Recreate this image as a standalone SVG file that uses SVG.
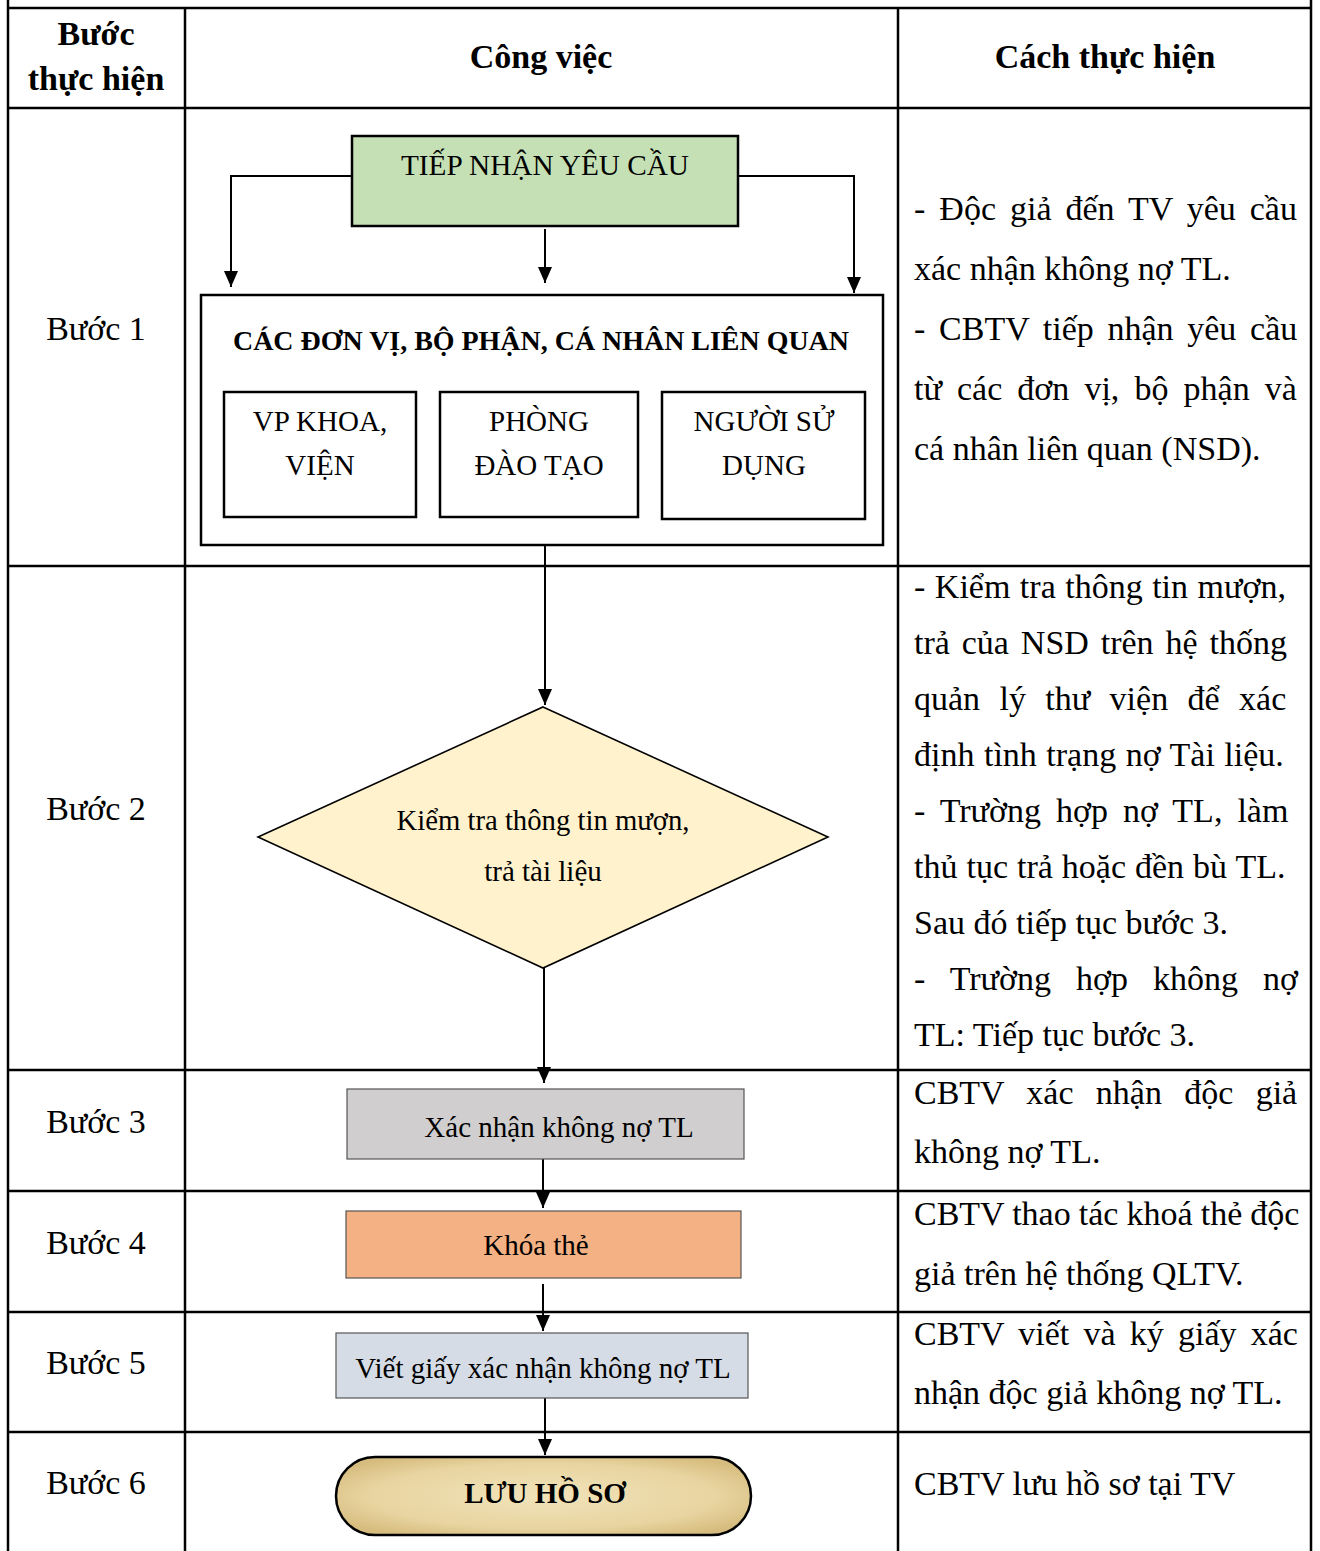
<svg xmlns="http://www.w3.org/2000/svg" width="1320" height="1551" viewBox="0 0 1320 1551">
<style>
  text { font-family: "Liberation Serif", "Times New Roman", serif; fill: #000; }
  .hd { font-size: 34px; font-weight: bold; text-anchor: middle; }
  .step { font-size: 34px; text-anchor: middle; }
  .body { font-size: 34px; }
  .lbl { font-size: 29px; text-anchor: middle; }
  .lblb { font-size: 28px; font-weight: bold; text-anchor: middle; }
  .grid { stroke: #000; stroke-width: 2.5; fill: none; }
  .conn { stroke: #000; stroke-width: 2; fill: none; }
  .thick { stroke: #000; stroke-width: 2.5; }
  .thin { stroke: #555; stroke-width: 1.2; }
</style>
<defs>
  <marker id="arr" viewBox="0 0 16 14" refX="16" refY="7" markerWidth="16" markerHeight="14" markerUnits="userSpaceOnUse" orient="auto">
    <path d="M0,0 L16,7 L0,14 Z" fill="#000"/>
  </marker>
  <radialGradient id="parch" cx="50%" cy="50%" r="60%">
    <stop offset="0" stop-color="#F1E3BA"/>
    <stop offset="0.7" stop-color="#E8D4A0"/>
    <stop offset="1" stop-color="#D6BC7E"/>
  </radialGradient>
</defs>

<g id="table">
  <line class="grid" x1="8" y1="0" x2="8" y2="1551"/>
  <line class="grid" x1="1311" y1="0" x2="1311" y2="1551"/>
  <line class="grid" x1="185" y1="8" x2="185" y2="1551"/>
  <line class="grid" x1="898" y1="8" x2="898" y2="1551"/>
  <line class="grid" x1="8" y1="8" x2="1311" y2="8"/>
  <line class="grid" x1="8" y1="108" x2="1311" y2="108"/>
  <line class="grid" x1="8" y1="566" x2="1311" y2="566"/>
  <line class="grid" x1="8" y1="1070" x2="1311" y2="1070"/>
  <line class="grid" x1="8" y1="1191" x2="1311" y2="1191"/>
  <line class="grid" x1="8" y1="1312" x2="1311" y2="1312"/>
  <line class="grid" x1="8" y1="1432" x2="1311" y2="1432"/>
</g>

<g id="header">
  <text class="hd" x="96" y="45">Bước</text>
  <text class="hd" x="96" y="90">thực hiện</text>
  <text class="hd" x="541" y="68">Công việc</text>
  <text class="hd" x="1105" y="68">Cách thực hiện</text>
</g>

<g id="steps">
  <text class="step" x="96" y="340">Bước 1</text>
  <text class="step" x="96" y="820">Bước 2</text>
  <text class="step" x="96" y="1133">Bước 3</text>
  <text class="step" x="96" y="1254">Bước 4</text>
  <text class="step" x="96" y="1374">Bước 5</text>
  <text class="step" x="96" y="1494">Bước 6</text>
</g>

<g id="descriptions">
  <text class="body" x="914" y="220" style="word-spacing:5.5px">- Độc giả đến TV yêu cầu</text>
  <text class="body" x="914" y="280">xác nhận không nợ TL.</text>
  <text class="body" x="914" y="340" style="word-spacing:5.2px">- CBTV tiếp nhận yêu cầu</text>
  <text class="body" x="914" y="400" style="word-spacing:6.6px">từ các đơn vị, bộ phận và</text>
  <text class="body" x="914" y="460">cá nhân liên quan (NSD).</text>

  <text class="body" x="914" y="598" style="word-spacing:1px">- Kiểm tra thông tin mượn,</text>
  <text class="body" x="914" y="654" style="word-spacing:3.4px">trả của NSD trên hệ thống</text>
  <text class="body" x="914" y="710" style="word-spacing:10.9px">quản lý thư viện để xác</text>
  <text class="body" x="914" y="766" style="word-spacing:1px">định tình trạng nợ Tài liệu.</text>
  <text class="body" x="914" y="822" style="word-spacing:6.5px">- Trường hợp nợ TL, làm</text>
  <text class="body" x="914" y="878" style="word-spacing:0.5px">thủ tục trả hoặc đền bù TL.</text>
  <text class="body" x="914" y="934">Sau đó tiếp tục bước 3.</text>
  <text class="body" x="914" y="990" style="word-spacing:16.5px">- Trường hợp không nợ</text>
  <text class="body" x="914" y="1046">TL: Tiếp tục bước 3.</text>

  <text class="body" x="914" y="1104" style="word-spacing:13.8px">CBTV xác nhận độc giả</text>
  <text class="body" x="914" y="1163">không nợ TL.</text>
  <text class="body" x="914" y="1225" style="word-spacing:-0.4px">CBTV thao tác khoá thẻ độc</text>
  <text class="body" x="914" y="1285">giả trên hệ thống QLTV.</text>
  <text class="body" x="914" y="1345" style="word-spacing:5.7px">CBTV viết và ký giấy xác</text>
  <text class="body" x="914" y="1404">nhận độc giả không nợ TL.</text>
  <text class="body" x="914" y="1495">CBTV lưu hồ sơ tại TV</text>
</g>

<g id="connectors">
  <path class="conn" d="M352,176 H231 V287" marker-end="url(#arr)"/>
  <path class="conn" d="M545,229 V283" marker-end="url(#arr)"/>
  <path class="conn" d="M738,176 H854 V293" marker-end="url(#arr)"/>
  <path class="conn" d="M545,545 V705" marker-end="url(#arr)"/>
  <path class="conn" d="M544,968 V1083" marker-end="url(#arr)"/>
  <path class="conn" d="M543,1159 V1208" marker-end="url(#arr)"/>
  <path class="conn" d="M543,1284 V1331" marker-end="url(#arr)"/>
  <path class="conn" d="M545,1398 V1455" marker-end="url(#arr)"/>
</g>

<g id="node-tiep-nhan">
  <rect x="352" y="136" width="386" height="90" fill="#C5E0B4" class="thick"/>
  <text class="lbl" x="545" y="175" textLength="288" lengthAdjust="spacingAndGlyphs">TIẾP NHẬN YÊU CẦU</text>
</g>

<g id="node-don-vi">
  <rect x="201" y="295" width="682" height="250" fill="#fff" class="thick"/>
  <text class="lblb" x="541" y="350" textLength="616" lengthAdjust="spacingAndGlyphs">CÁC ĐƠN VỊ, BỘ PHẬN, CÁ NHÂN LIÊN QUAN</text>
</g>

<g id="node-vp-khoa">
  <rect x="224" y="392" width="192" height="125" fill="#fff" class="thick"/>
  <text class="lbl" x="320" y="431">VP KHOA,</text>
  <text class="lbl" x="320" y="475">VIỆN</text>
</g>

<g id="node-phong-dao-tao">
  <rect x="440" y="392" width="198" height="125" fill="#fff" class="thick"/>
  <text class="lbl" x="539" y="431">PHÒNG</text>
  <text class="lbl" x="539" y="475">ĐÀO TẠO</text>
</g>

<g id="node-nguoi-su-dung">
  <rect x="662" y="392" width="203" height="127" fill="#fff" class="thick"/>
  <text class="lbl" x="764" y="431">NGƯỜI SỬ</text>
  <text class="lbl" x="764" y="475">DỤNG</text>
</g>

<g id="node-kiem-tra">
  <polygon points="543,707 828,837 543,968 258,837" fill="#FFF2CC" stroke="#000" stroke-width="1.6"/>
  <text class="lbl" x="543" y="830" textLength="293" lengthAdjust="spacingAndGlyphs">Kiểm tra thông tin mượn,</text>
  <text class="lbl" x="543" y="881">trả tài liệu</text>
</g>

<g id="node-xac-nhan">
  <rect x="347" y="1089" width="397" height="70" fill="#D0CECE" class="thin"/>
  <text class="lbl" x="559" y="1137">Xác nhận không nợ TL</text>
</g>

<g id="node-khoa-the">
  <rect x="346" y="1211" width="395" height="67" fill="#F4B183" class="thin"/>
  <text class="lbl" x="536" y="1255">Khóa thẻ</text>
</g>

<g id="node-viet-giay">
  <rect x="336" y="1333" width="412" height="65" fill="#D6DCE5" class="thin"/>
  <text class="lbl" x="543" y="1378">Viết giấy xác nhận không nợ TL</text>
</g>

<g id="node-luu-ho-so">
  <rect x="336" y="1457" width="415" height="78" rx="39" ry="39" fill="url(#parch)" class="thick"/>
  <text class="lblb" x="545" y="1503" style="font-size:29px">LƯU HỒ SƠ</text>
</g>
</svg>
